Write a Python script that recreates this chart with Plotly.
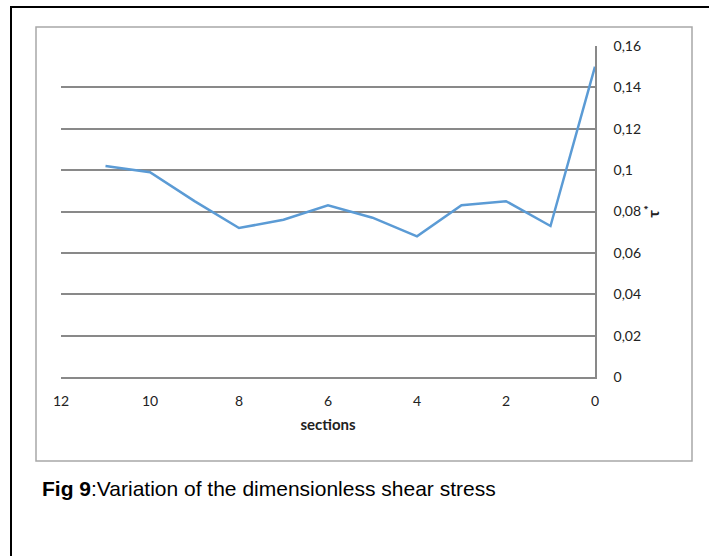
import plotly.graph_objects as go

# Dimensionless shear stress per section (sections counted from the outlet)
sections = [11, 10, 9, 8, 7, 6, 5, 4, 3, 2, 1, 0]
tau_star = [0.102, 0.099, 0.085, 0.072, 0.076, 0.083, 0.077, 0.068, 0.083, 0.085, 0.073, 0.150]

x_ticks = [12, 10, 8, 6, 4, 2, 0]
y_ticks = [0, 0.02, 0.04, 0.06, 0.08, 0.10, 0.12, 0.14, 0.16]
y_tick_text = ["0", "0,02", "0,04", "0,06", "0,08", "0,1", "0,12", "0,14", "0,16"]

W, H = 709, 556
L, R, T, B = 61, 595, 46, 377  # plot area in pixels


def px(x):
    return (x - L) / (R - L)


def py(y):
    return (B - y) / (B - T)


fig = go.Figure()
fig.add_trace(go.Scatter(
    x=sections, y=tau_star, mode="lines",
    line=dict(color="#5B9BD5", width=2.5),
    hoverinfo="skip", showlegend=False,
))

grid_col = "#898989"
fig.update_layout(
    width=W, height=H,
    margin=dict(l=L, r=W - R, t=T, b=H - B),
    paper_bgcolor="white", plot_bgcolor="white",
    font=dict(family="Lato", size=14, color="#222"),
    xaxis=dict(
        range=[12, 0], tickvals=x_ticks, ticktext=[str(v) for v in x_ticks],
        showgrid=False, zeroline=False, showline=True, linecolor=grid_col, linewidth=1.5,
        ticks="", ticklabelstandoff=10,
        title=dict(text="sections", font=dict(family="Lato", size=15, weight=700), standoff=12),
    ),
    yaxis=dict(
        side="right", range=[0, 0.16], tickvals=y_ticks, ticktext=y_tick_text,
        showgrid=True, gridcolor=grid_col, gridwidth=1.5, zeroline=False,
        showline=True, linecolor=grid_col, linewidth=1.5,
        ticks="", ticklabelstandoff=14,
        title=dict(text="τ<sup>*</sup>", font=dict(family="Lato", size=16, weight=700), standoff=8),
    ),
    shapes=[
        dict(type="rect", xref="paper", yref="paper",
             x0=px(36), x1=px(692), y0=py(461), y1=py(27),
             line=dict(color="#a8a8a8", width=1.5), layer="below"),
        dict(type="rect", xref="paper", yref="paper",
             x0=px(11), x1=px(730), y0=py(580), y1=py(7),
             line=dict(color="black", width=2), layer="below"),
    ],
    annotations=[
        dict(text="<b>Fig 9</b>:Variation of the dimensionless shear stress",
             xref="paper", yref="paper", x=px(40), y=py(488),
             xanchor="left", yanchor="middle", showarrow=False,
             font=dict(family="Liberation Sans", size=21, color="black")),
    ],
)

fig.write_html("out.html")
